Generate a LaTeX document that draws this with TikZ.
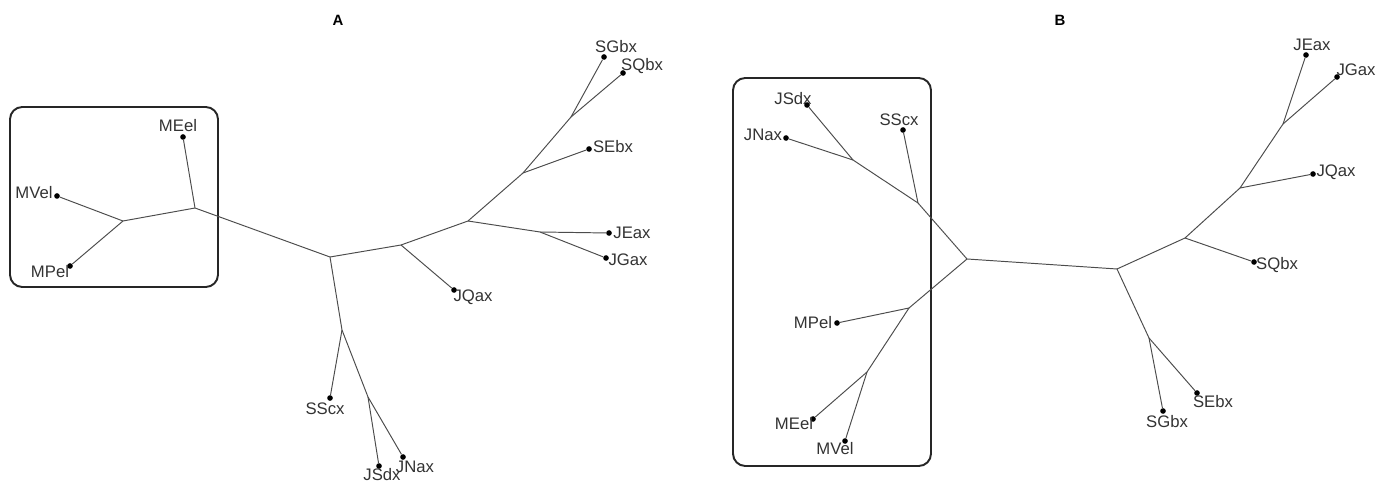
\documentclass[tikz,border=0pt]{standalone}
\usepackage{fontspec}
\setmainfont{Liberation Sans}
\begin{document}
\begin{tikzpicture}[x=0.02cm, y=-0.02cm,
    branch/.style={draw=black!70, line width=0.55pt},
    leaf/.style={circle, fill=black, inner sep=0pt, minimum size=3.2pt},
    lbl/.style={text=black!80, inner sep=0pt, font=\fontsize{9.5}{11}\selectfont},
    clade/.style={draw=black!85, line width=1.1pt, rounded corners=7pt},
    title/.style={font=\bfseries\fontsize{8.5}{10}\selectfont}]
    \useasboundingbox (0,0) rectangle (1376,486);

    % Panel titles
    \node[title] (titleA) at (338,20) {A};
    \node[title] (titleB) at (1060,20) {B};

    % Highlighted clades
    \draw[clade] (10,107) rectangle (218,287);
    \draw[clade] (733,78) rectangle (931,466);

    % Tree A: leaves (dot, then label)
    \foreach \n/\px/\py/\qx/\qy in {MEel/183/137/178/126, MVel/57/196/34/193,
        MPel/70/266/50/272, JQax/454/290/473/297, JEax/609/233/632/233,
        JGax/606/258/628/260, SEbx/589/149/613/147, SGbx/604/57/616/47,
        SQbx/623/73/642/66, SScx/330/398/325/409, JSdx/379/466/382/475,
        JNax/403/457/415/467}{
        \node[leaf] (a\n) at (\px,\py) {};
        \node[lbl] (la\n) at (\qx,\qy) {\n};
    }
    % Tree A: inner nodes
    \coordinate (aM) at (123,221);
    \coordinate (aE) at (195,208);
    \coordinate (aR) at (330,257);
    \coordinate (aQ) at (401,245);
    \coordinate (aS) at (468,221);
    \coordinate (aJ) at (540,232);
    \coordinate (aT) at (523,173);
    \coordinate (aU) at (571,117);
    \coordinate (aD) at (342,330);
    \coordinate (aN) at (368,397);
    % Tree A: branches
    \foreach \u/\v in {aMVel/aM, aMPel/aM, aM/aE, aMEel/aE, aE/aR, aR/aQ,
        aQ/aJQax, aQ/aS, aS/aJ, aJ/aJEax, aJ/aJGax, aS/aT, aT/aSEbx, aT/aU,
        aU/aSGbx, aU/aSQbx, aR/aD, aD/aSScx, aD/aN, aN/aJSdx, aN/aJNax}
        \draw[branch] (\u) -- (\v);

    % Tree B: leaves (dot, then label)
    \foreach \n/\px/\py/\qx/\qy in {JSdx/807/105/793/99, JNax/786/138/763/135,
        SScx/903/130/899/120, MPel/837/323/813/323, MEel/813/419/794/424,
        MVel/845/441/835/449, SQbx/1254/262/1277/265, JQax/1313/174/1336/172,
        JEax/1306/55/1312/45, JGax/1337/77/1356/70, SGbx/1163/411/1167/422,
        SEbx/1197/393/1213/402}{
        \node[leaf] (b\n) at (\px,\py) {};
        \node[lbl] (lb\n) at (\qx,\qy) {\n};
    }
    % Tree B: inner nodes
    \coordinate (b1) at (853,160);
    \coordinate (b2) at (918,203);
    \coordinate (bR) at (967,259);
    \coordinate (b3) at (909,308);
    \coordinate (b4) at (867,372);
    \coordinate (b5) at (1117,269);
    \coordinate (b6) at (1185,238);
    \coordinate (b7) at (1240,188);
    \coordinate (b8) at (1283,124);
    \coordinate (b9) at (1149,338);
    % Tree B: branches
    \foreach \u/\v in {b1/bJSdx, b1/bJNax, b1/b2, b2/bSScx, b2/bR, bR/b3,
        b3/bMPel, b3/b4, b4/bMEel, b4/bMVel, bR/b5, b5/b6, b6/bSQbx, b6/b7,
        b7/bJQax, b7/b8, b8/bJEax, b8/bJGax, b5/b9, b9/bSGbx, b9/bSEbx}
        \draw[branch] (\u) -- (\v);
\end{tikzpicture}
\end{document}
